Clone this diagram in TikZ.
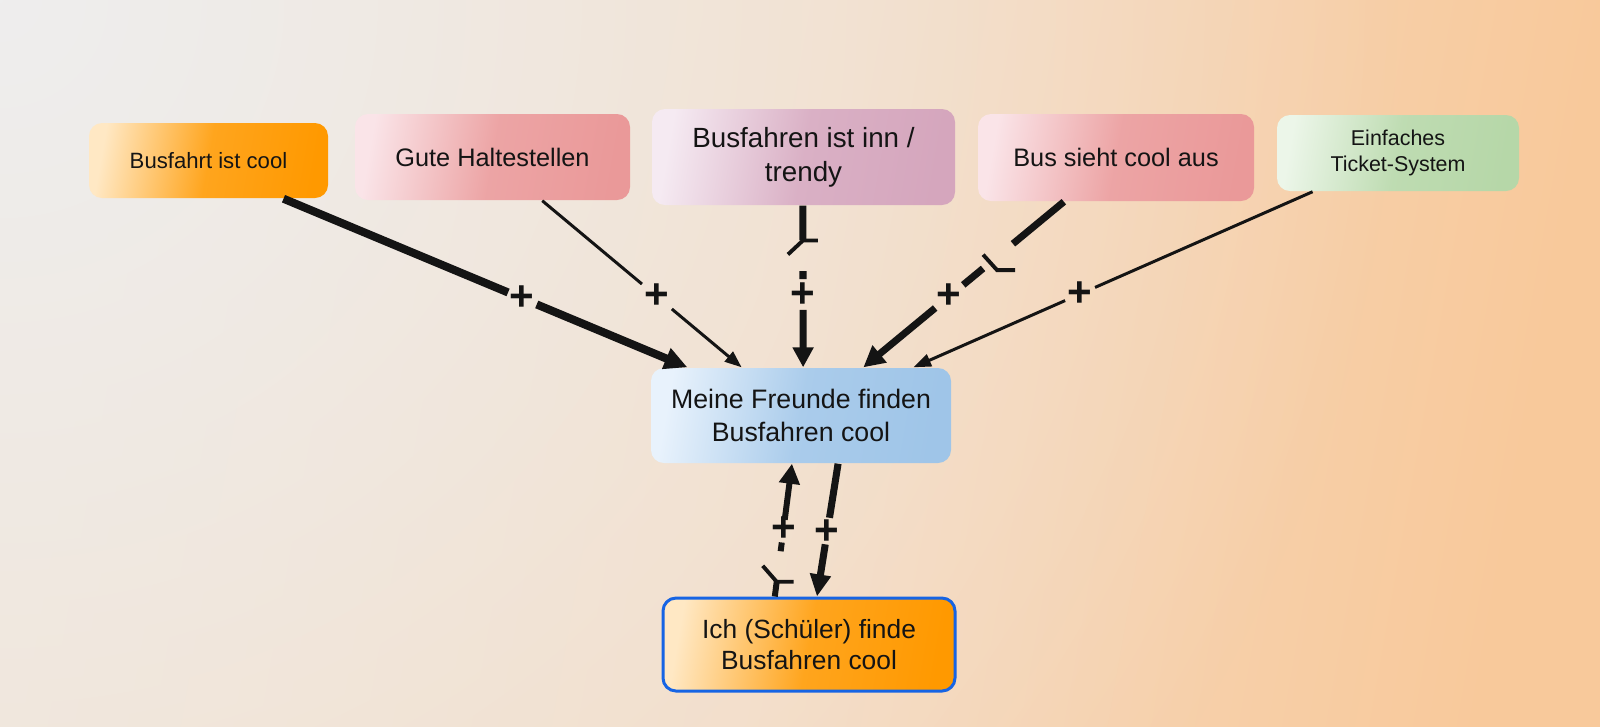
\documentclass[tikz,border=0pt]{standalone}
\usepackage{fontspec}
\setmainfont{Liberation Sans}
\usepackage{tikz}
\usetikzlibrary{arrows.meta,calc,fadings}
\definecolor{BgGrey}{RGB}{238, 238, 238}
\definecolor{BgLeft}{RGB}{243, 225, 206}
\definecolor{BgMid}{RGB}{245, 218, 192}
\definecolor{BgPeach}{RGB}{248, 201, 155}
\definecolor{OrangeLight}{RGB}{255, 232, 196}
\definecolor{Orange}{RGB}{255, 153, 0}
\definecolor{RoseLight}{RGB}{250, 228, 232}
\definecolor{Rose}{RGB}{234, 153, 153}
\definecolor{MauveLight}{RGB}{245, 234, 242}
\definecolor{Mauve}{RGB}{213, 166, 189}
\definecolor{SageLight}{RGB}{236, 246, 233}
\definecolor{Sage}{RGB}{182, 215, 168}
\definecolor{SkyLight}{RGB}{232, 242, 252}
\definecolor{Sky}{RGB}{159, 197, 232}
\definecolor{Frame}{RGB}{22, 100, 228}
\definecolor{Ink}{RGB}{20, 20, 20}
\tikzfading[name = cornerfade, inner color = transparent!0, outer color = transparent!100]

\begin{document}
\begin{tikzpicture}[
    box/.style = {rounded corners = 1.3mm, align = center, text = Ink, inner sep = 0pt},
    tint/.style 2 args = {left color = #1, right color = #2, middle color = #2!85!#1, shading angle = 80},
    link/.style = {draw = Ink, line cap = butt},
    sign/.style = {font = \fontsize{12}{12}\bfseries\selectfont, text = Ink, inner sep = 0pt},
    lag/.style = {draw = Ink, line width = 1.1pt}
]
    % Background
    \shade[left color = BgLeft, right color = BgPeach, middle color = BgMid, shading angle = 80]
    (0,0) rectangle (16,-7.26);
    \begin{scope}
        \clip (0,0) rectangle (16,-7.26);
        \fill[BgGrey, path fading = cornerfade] (0,0) circle (14);
    \end{scope}
    \useasboundingbox (0,0) rectangle (16,-7.26);

    % Factors
    \node[box, tint = {OrangeLight}{Orange}, minimum width = 2.39cm, minimum height = 0.75cm,
        font = \fontsize{6.3}{7.6}\selectfont] (cool) at (2.085,-1.605) {Busfahrt ist cool};
    \node[box, tint = {RoseLight}{Rose}, minimum width = 2.75cm, minimum height = 0.86cm,
        font = \fontsize{7.2}{8.8}\selectfont] (stops) at (4.925,-1.57) {Gute Haltestellen};
    \node[box, tint = {MauveLight}{Mauve}, minimum width = 3.03cm, minimum height = 0.96cm,
        font = \fontsize{7.9}{9.6}\selectfont] (trendy) at (8.035,-1.57) {Busfahren ist inn /\\trendy};
    \node[box, tint = {RoseLight}{Rose}, minimum width = 2.76cm, minimum height = 0.87cm,
        font = \fontsize{7.2}{8.8}\selectfont] (looks) at (11.16,-1.575) {Bus sieht cool aus};
    \node[box, tint = {SageLight}{Sage}, minimum width = 2.42cm, minimum height = 0.76cm,
        font = \fontsize{6.1}{7.6}\selectfont] (ticket) at (13.98,-1.53) {Einfaches\\Ticket-System};

    % Friends and me
    \node[box, tint = {SkyLight}{Sky}, minimum width = 3.0cm, minimum height = 0.95cm,
        font = \fontsize{7.6}{9.3}\selectfont] (friends) at (8.01,-4.155) {Meine Freunde finden\\Busfahren cool};
    \node[box, tint = {OrangeLight}{Orange}, draw = Frame, line width = 0.85pt,
        minimum width = 2.92cm, minimum height = 0.93cm,
        font = \fontsize{7.5}{9}\selectfont] (me) at (8.09,-6.445) {Ich (Schüler) finde\\Busfahren cool};

    % Ends of the links
    \coordinate (s1) at ($(cool.south west)!0.812!(cool.south east)$);
    \coordinate (e1) at ($(friends.north west)!0.123!(friends.north east)$);
    \coordinate (s2) at ($(stops.south west)!0.68!(stops.south east)$);
    \coordinate (e2) at ($(friends.north west)!0.303!(friends.north east)$);
    \coordinate (s3) at ($(trendy.south west)!0.498!(trendy.south east)$);
    \coordinate (e3) at ($(friends.north west)!0.507!(friends.north east)$);
    \coordinate (s4) at ($(looks.south west)!0.312!(looks.south east)$);
    \coordinate (e4) at ($(friends.north west)!0.707!(friends.north east)$);
    \coordinate (s5) at ($(ticket.south west)!0.149!(ticket.south east)$);
    \coordinate (e5) at ($(friends.north west)!0.873!(friends.north east)$);
    \coordinate (s6) at ($(friends.south west)!0.623!(friends.south east)$);
    \coordinate (e6) at ($(me.north west)!0.527!(me.north east)$);
    \coordinate (s7) at ($(me.north west)!0.384!(me.north east)$);
    \coordinate (e7) at ($(friends.south west)!0.47!(friends.south east)$);

    % Links
    \draw[link, line width = 2.3pt, -{Triangle[length = 6.5pt, width = 6pt]}]
    (s1) -- ($(s1)!0.556!(e1)$)
    ($(s1)!0.627!(e1)$) -- (e1);
    \node[sign] (p1) at ($(s1)!0.59!(e1)$) {+};

    \draw[link, line width = 0.85pt, -{Triangle[length = 4.8pt, width = 3.6pt]}]
    (s2) -- ($(s2)!0.5!(e2)$)
    ($(s2)!0.65!(e2)$) -- (e2);
    \node[sign] (p2) at ($(s2)!0.575!(e2)$) {+};

    \coordinate (m3) at ($(s3)!0.215!(e3)$);
    \draw[link, line width = 2pt, -{Triangle[length = 5.7pt, width = 5.7pt]}]
    (s3) -- (m3)
    ($(s3)!0.405!(e3)$) -- ($(s3)!0.454!(e3)$)
    ($(s3)!0.644!(e3)$) -- (e3);
    \draw[lag] (m3) -- +(0.15,0) (m3) -- +(-0.15,-0.14);
    \node[sign] (p3) at ($(s3)!0.552!(e3)$) {+};

    \coordinate (m4) at ($(s4)!0.368!(e4)$);
    \draw[link, line width = 2pt, -{Triangle[length = 6pt, width = 6pt]}]
    (s4) -- ($(s4)!0.254!(e4)$)
    ($(s4)!0.403!(e4)$) -- ($(s4)!0.502!(e4)$)
    ($(s4)!0.642!(e4)$) -- (e4);
    \draw[lag] ($(m4)+(-0.07,0.08)$) -- ($(m4)+(0.07,-0.075)$) -- ++(0.18,0);
    \node[sign] (p4) at ($(s4)!0.572!(e4)$) {+};

    \draw[link, line width = 0.85pt, -{Triangle[length = 5pt, width = 3.6pt]}]
    (s5) -- ($(s5)!0.545!(e5)$)
    ($(s5)!0.62!(e5)$) -- (e5);
    \node[sign] (p5) at ($(s5)!0.5825!(e5)$) {+};

    % Loop between friends and me
    \draw[link, line width = 2pt, -{Triangle[length = 6.3pt, width = 5.7pt]}]
    (s6) -- ($(s6)!0.407!(e6)$)
    ($(s6)!0.607!(e6)$) -- (e6);
    \node[sign] (p6) at ($(s6)!0.515!(e6)$) {+};

    \coordinate (m7) at ($(s7)!0.111!(e7)$);
    \draw[link, line width = 1.7pt, -{Triangle[length = 5.7pt, width = 5.7pt]}]
    (s7) -- (m7)
    ($(s7)!0.341!(e7)$) -- ($(s7)!0.407!(e7)$)
    ($(s7)!0.578!(e7)$) -- (e7);
    \draw[lag] (m7) -- +(0.17,0) (m7) -- +(-0.14,0.16);
    \node[sign] (p7) at ($(s7)!0.504!(e7)$) {+};
\end{tikzpicture}
\end{document}
